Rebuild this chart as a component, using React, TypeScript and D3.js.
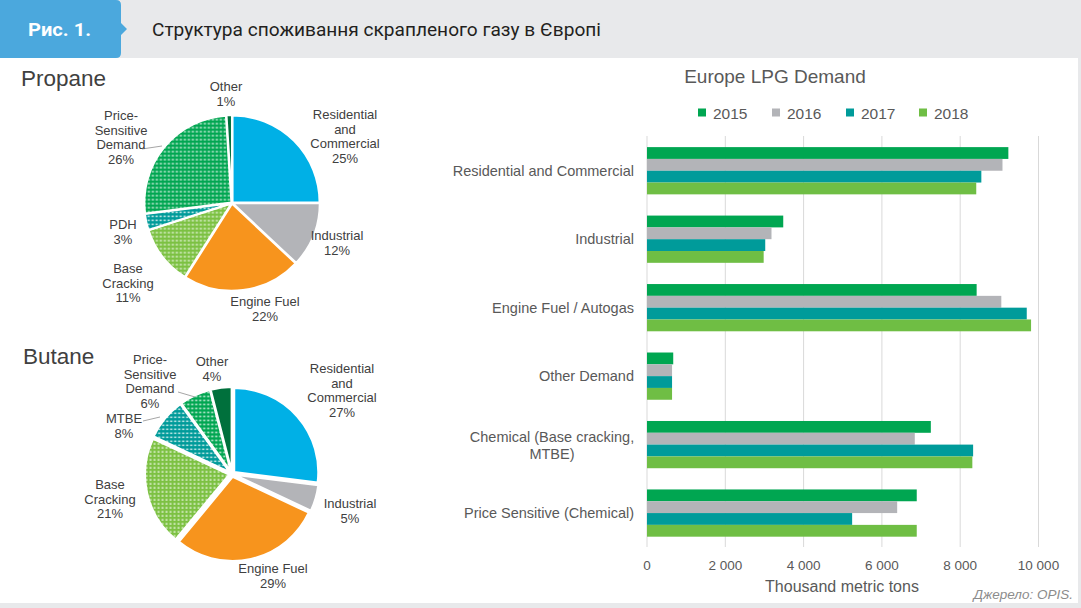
import React from "react";
import * as d3 from "d3";

const W = 1081;
const H = 608;

// Bar chart data
const categories = [
  "Residential and Commercial",
  "Industrial",
  "Engine Fuel / Autogas",
  "Other Demand",
  "Chemical (Base cracking, MTBE)",
  "Price Sensitive (Chemical)",
];
const years = ["2015", "2016", "2017", "2018"];
const v2015 = [9230, 3480, 8420, 670, 7250, 6890];
const v2016 = [9080, 3180, 9050, 640, 6840, 6390];
const v2017 = [8540, 3020, 9700, 640, 8330, 5240];
const v2018 = [8410, 2980, 9810, 640, 8310, 6890];
const seriesValues = [v2015, v2016, v2017, v2018];
const yearColors = ["#00a651", "#b3b4b8", "#009b9a", "#6fbe44"];
const xTicks = [0, 2000, 4000, 6000, 8000, 10000];

// Pie data
const propaneLabels = [
  ["Residential", "and", "Commercial"],
  ["Industrial"],
  ["Engine Fuel"],
  ["Base", "Cracking"],
  ["PDH"],
  ["Price-", "Sensitive", "Demand"],
  ["Other"],
];
const propaneValues = [25, 12, 22, 11, 3, 26, 1];
const butaneLabels = [
  ["Residential", "and", "Commercial"],
  ["Industrial"],
  ["Engine Fuel"],
  ["Base", "Cracking"],
  ["MTBE"],
  ["Price-", "Sensitive", "Demand"],
  ["Other"],
];
const butaneValues = [27, 5, 29, 21, 8, 6, 4];
const sliceFills = [
  "#00b0e6",
  "#b3b4b8",
  "#f7941d",
  "url(#patLight)",
  "url(#patTeal)",
  "url(#patGreen)",
  "#00703c",
];

// label anchor positions (x center, first baseline y)
const propaneLabelPos = [
  [345, 119],
  [337, 240],
  [265, 306],
  [128, 273],
  [123, 229],
  [121, 120],
  [226, 91],
];
const butaneLabelPos = [
  [342, 373],
  [350, 508],
  [273, 573],
  [110, 489],
  [124, 423],
  [150, 364],
  [212, 366],
];

const FONT = "'Liberation Sans', Arial, sans-serif";
const TXT = "#404040";

function Pie({
  cx,
  cy,
  r,
  values,
  labels,
  pos,
  explode,
  leaders,
}: {
  cx: number;
  cy: number;
  r: number;
  values: number[];
  labels: string[][];
  pos: number[][];
  explode: number;
  leaders: { from: [number, number]; to: [number, number] }[];
}) {
  const arcs = d3.pie<number>().sort(null).value((d) => d)(values);
  const arcGen = d3.arc<d3.PieArcDatum<number>>().innerRadius(0).outerRadius(r);
  return (
    <g>
      {arcs.map((a, i) => {
        const mid = (a.startAngle + a.endAngle) / 2;
        const dx = Math.sin(mid) * explode;
        const dy = -Math.cos(mid) * explode;
        return (
          <path
            key={i}
            d={arcGen(a) || ""}
            transform={`translate(${cx + dx},${cy + dy})`}
            fill={sliceFills[i]}
            stroke="#fff"
            strokeWidth={2}
            strokeLinejoin="round"
          />
        );
      })}
      {leaders.map((l, i) => (
        <line
          key={"l" + i}
          x1={l.from[0]}
          y1={l.from[1]}
          x2={l.to[0]}
          y2={l.to[1]}
          stroke="#a6a6a6"
          strokeWidth={1}
        />
      ))}
      {labels.map((lines, i) => (
        <text
          key={"t" + i}
          x={pos[i][0]}
          y={pos[i][1]}
          textAnchor="middle"
          fontFamily={FONT}
          fontSize={13}
          fill={TXT}
        >
          {[...lines, `${values[i]}%`].map((ln, j) => (
            <tspan key={j} x={pos[i][0]} dy={j === 0 ? 0 : 14.7}>
              {ln}
            </tspan>
          ))}
        </text>
      ))}
    </g>
  );
}

export default function App() {
  const x = d3.scaleLinear().domain([0, 10000]).range([647, 1038.5]);
  const y = d3
    .scaleBand<string>()
    .domain(categories)
    .range([136.5, 547.3])
    .paddingInner(0.31)
    .paddingOuter(0.155);
  const sub = d3.scaleBand<string>().domain(years).range([0, y.bandwidth()]);

  const headerTitle = "Структура споживання скрапленого газу в Європі";

  return (
    <svg
      width={W}
      height={H}
      style={{ position: "absolute", left: 0, top: 0 }}
      viewBox={`0 0 ${W} ${H}`}
    >
      <defs>
        <pattern id="patGreen" width={4} height={4} patternUnits="userSpaceOnUse">
          <rect width={4} height={4} fill="#00a651" />
          <rect x={0.5} y={0.5} width={2} height={1.5} fill="#ffffff" opacity={0.85} />
        </pattern>
        <pattern id="patTeal" width={4} height={4} patternUnits="userSpaceOnUse">
          <rect width={4} height={4} fill="#009b9a" />
          <rect x={0.5} y={0.5} width={2} height={1.5} fill="#ffffff" opacity={0.85} />
        </pattern>
        <pattern id="patLight" width={4} height={4} patternUnits="userSpaceOnUse">
          <rect width={4} height={4} fill="#7cc142" />
          <rect x={0.5} y={0.5} width={2} height={1.5} fill="#ffffff" opacity={0.8} />
        </pattern>
      </defs>

      {/* background */}
      <rect x={0} y={0} width={W} height={H} fill="#e8e9eb" />
      <rect x={0} y={58} width={1078} height={545} fill="#ffffff" />

      {/* header tab */}
      <path
        d="M0,0 H116 Q121,0 121,5 V23 L127,29 L121,35 V53 Q121,58 116,58 H0 Z"
        fill="#4ba8dd"
      />
      <text
        x={28}
        y={36}
        fontFamily="Roboto, 'Open Sans', sans-serif"
        fontWeight="bold"
        fontSize={19}
        fill="#ffffff"
        textLength={63}
        lengthAdjust="spacingAndGlyphs"
      >
        Рис. 1.
      </text>
      <text
        x={152}
        y={36}
        fontFamily="Roboto, 'Open Sans', sans-serif"
        fontSize={19}
        fill="#231f20"
        textLength={449}
        lengthAdjust="spacingAndGlyphs"
      >
        {headerTitle}
      </text>

      {/* pie titles */}
      <text x={21} y={86} fontFamily={FONT} fontSize={22.5} fill={TXT}>
        Propane
      </text>
      <text x={23} y={364} fontFamily={FONT} fontSize={22.5} fill={TXT}>
        Butane
      </text>

      <Pie
        cx={232}
        cy={203}
        r={87}
        values={propaneValues}
        labels={propaneLabels}
        pos={propaneLabelPos}
        explode={0.8}
        leaders={[{ from: [142, 149], to: [162, 146] }]}
      />
      <Pie
        cx={232}
        cy={474}
        r={84}
        values={butaneValues}
        labels={butaneLabels}
        pos={butaneLabelPos}
        explode={3}
        leaders={[
          { from: [178, 392], to: [195, 397] },
          { from: [143, 421], to: [160, 417] },
        ]}
      />

      {/* bar chart title */}
      <text
        x={775}
        y={83}
        textAnchor="middle"
        fontFamily={FONT}
        fontSize={19}
        fill="#595959"
      >
        Europe LPG Demand
      </text>

      {/* legend */}
      {years.map((yr, i) => {
        const lx = [698, 772, 846, 919][i];
        return (
          <g key={yr}>
            <rect x={lx} y={108.5} width={8} height={8} fill={yearColors[i]} />
            <text
              x={lx + 15}
              y={118.5}
              fontFamily={FONT}
              fontSize={15.5}
              fill="#595959"
            >
              {yr}
            </text>
          </g>
        );
      })}

      {/* gridlines */}
      {xTicks.map((t) => (
        <line
          key={t}
          x1={x(t)}
          x2={x(t)}
          y1={136}
          y2={547}
          stroke="#d9d9d9"
          strokeWidth={1}
        />
      ))}

      {/* bars */}
      {categories.map((c, ci) =>
        years.map((yr, si) => (
          <rect
            key={c + yr}
            x={x(0)}
            y={(y(c) || 0) + (sub(yr) || 0)}
            width={x(seriesValues[si][ci]) - x(0)}
            height={sub.bandwidth()}
            fill={yearColors[si]}
          />
        ))
      )}

      {/* category labels */}
      {categories.map((c) => {
        const cyy = (y(c) || 0) + y.bandwidth() / 2;
        if (c.startsWith("Chemical")) {
          return (
            <text
              key={c}
              x={552}
              y={cyy - 3}
              textAnchor="middle"
              fontFamily={FONT}
              fontSize={14.5}
              fill="#595959"
            >
              <tspan x={552} dy={0}>
                Chemical (Base cracking,
              </tspan>
              <tspan x={552} dy={17}>
                MTBE)
              </tspan>
            </text>
          );
        }
        return (
          <text
            key={c}
            x={634}
            y={cyy + 5}
            textAnchor="end"
            fontFamily={FONT}
            fontSize={14.5}
            fill="#595959"
          >
            {c}
          </text>
        );
      })}

      {/* x tick labels */}
      {xTicks.map((t) => (
        <text
          key={"tk" + t}
          x={x(t)}
          y={570}
          textAnchor="middle"
          fontFamily={FONT}
          fontSize={13.5}
          fill="#595959"
        >
          {d3.format(",")(t).replace(/,/g, " ")}
        </text>
      ))}
      <text
        x={842}
        y={592}
        textAnchor="middle"
        fontFamily={FONT}
        fontSize={16}
        fill="#595959"
      >
        Thousand metric tons
      </text>

      {/* source */}
      <text
        x={1073}
        y={599}
        textAnchor="end"
        fontFamily={FONT}
        fontStyle="italic"
        fontSize={13.5}
        fill="#8c8c8c"
      >
        Джерело: OPIS.
      </text>
    </svg>
  );
}
